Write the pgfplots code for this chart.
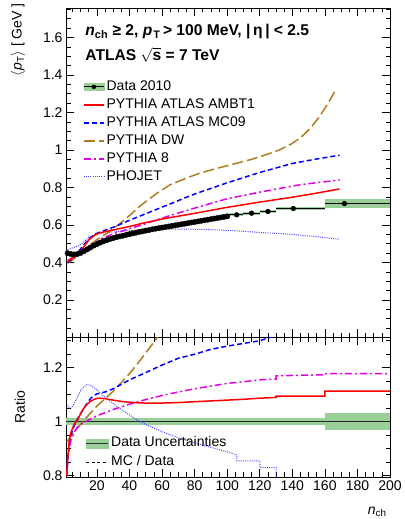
\documentclass[border=0pt]{standalone}
\usepackage{amsmath}
\usepackage{fontspec}
\setmainfont{Liberation Sans}
\usepackage{pgfplots}
\pgfplotsset{compat=1.18}

\definecolor{mcred}{RGB}{255,0,0}
\definecolor{mcblue}{RGB}{0,0,255}
\definecolor{dwbrown}{RGB}{176,125,30}
\definecolor{pymag}{RGB}{225,0,225}
\definecolor{phoblue}{RGB}{70,70,255}
\definecolor{bandgreen}{RGB}{152,208,152}

\newcommand{\fs}{\fontsize{14}{16}\selectfont}

\pgfplotsset{
  atlas/.style={
    scale only axis, width=324pt,
    xmin=1, xmax=200,
    tick align=inside, xtick pos=both, ytick pos=both,
    major tick length=8pt, minor tick length=4.5pt,
    xtick={20,40,...,200},
    minor xtick={5,10,...,200},
    axis line style={line width=0.8pt},
    every tick/.style={black, line width=0.6pt},
    tick label style={font=\fs},
    /pgf/number format/assume math mode=true,
    legend image code/.code={\draw[##1] (0pt,0pt) -- (20pt,0pt);},
    legend cell align=left,
  },
  mcamb/.style={mcred, line width=1.5pt},
  mcmc09/.style={mcblue, line width=1.5pt, dash pattern=on 5pt off 3pt},
  mcdw/.style={dwbrown, line width=1.5pt, dash pattern=on 11pt off 4pt},
  mcp8/.style={pymag, line width=1.5pt, dash pattern=on 7pt off 3pt on 2pt off 3pt},
  mcpho/.style={phoblue, line width=1pt, dash pattern=on 1pt off 1.2pt},
}

\begin{document}
\begin{tikzpicture}
\path[use as bounding box] (0,0) rectangle (404pt,519pt);

% ---------------- upper panel: <pT> vs nch
\begin{axis}[atlas,
  at={(66pt,511pt)}, anchor=north west, height=329.5pt,
  ymin=0, ymax=1.757,
  ytick={0,0.2,0.4,0.6,0.8,1,1.2,1.4,1.6},
  yticklabels={{},0.2,0.4,0.6,0.8,1,1.2,1.4,1.6},
  minor ytick={0.05,0.1,...,1.75},
  xticklabels={},
  ylabel={$\langle$\textit{p}$_{\text{T}}\rangle$ [ GeV ]},
  every axis y label/.style={at={(axis description cs:-0.148,1.025)}, rotate=90, anchor=east, font=\fs},
  legend style={draw=none, fill=none, at={(axis description cs:0.043,0.79)}, anchor=north west,
    font=\fs, row sep=3pt, nodes={inner ysep=1pt, text height=10pt, text depth=3pt}},
]
\addlegendimage{legend image code/.code={\fill[bandgreen] (0pt,-3.5pt) rectangle (20pt,3.5pt);
  \draw[black,line width=0.9pt] (0pt,0pt) -- (20pt,0pt); \fill[black] (10pt,0pt) circle (2pt);}}
\addlegendentry{Data 2010}
\addlegendimage{mcamb}
\addlegendentry{PYTHIA ATLAS AMBT1}
\addlegendimage{mcmc09}
\addlegendentry{PYTHIA ATLAS MC09}
\addlegendimage{mcdw}
\addlegendentry{PYTHIA DW}
\addlegendimage{mcp8}
\addlegendentry{PYTHIA 8}
\addlegendimage{mcpho}
\addlegendentry{PHOJET}

% data uncertainty bands of the wide bins
\addplot[forget plot, fill=bandgreen, draw=none] coordinates {(101,0.646) (110,0.646) (110,0.662) (101,0.662)} -- cycle;
\addplot[forget plot, fill=bandgreen, draw=none] coordinates {(110,0.655) (120,0.655) (120,0.671) (110,0.671)} -- cycle;
\addplot[forget plot, fill=bandgreen, draw=none] coordinates {(120,0.664) (130,0.664) (130,0.680) (120,0.680)} -- cycle;
\addplot[forget plot, fill=bandgreen, draw=none] coordinates {(130,0.678) (160,0.678) (160,0.698) (130,0.698)} -- cycle;
\addplot[forget plot, fill=bandgreen, draw=none] coordinates {(160,0.688) (200,0.688) (200,0.740) (160,0.740)} -- cycle;

% MC predictions
\addplot[forget plot, mcpho] coordinates {(2,0.468) (5,0.478) (9,0.490) (12,0.510) (15,0.535) (19,0.550) (23,0.556) (30,0.563) (40,0.570) (50,0.575) (60,0.578) (75,0.578) (90,0.575) (105,0.569) (120,0.560) (135,0.553) (150,0.542) (169,0.524)};
\addplot[forget plot, mcdw] coordinates {(2,0.396) (6,0.420) (10,0.455) (15,0.490) (20,0.522) (27,0.560) (33,0.600) (40,0.650) (45,0.690) (50,0.725) (57,0.770) (65,0.815) (75,0.850) (83,0.876) (95,0.905) (104,0.925) (115,0.950) (124,0.975) (132,1.000) (139,1.030) (145,1.065) (151,1.115) (156,1.170) (161,1.235) (166,1.310)};
\addplot[forget plot, mcmc09] coordinates {(2,0.400) (5,0.420) (8,0.450) (11,0.484) (15,0.525) (19,0.552) (25,0.572) (31,0.591) (40,0.625) (48,0.653) (60,0.695) (80,0.765) (100,0.825) (120,0.880) (140,0.928) (155,0.952) (169,0.972)};
\addplot[forget plot, mcp8] coordinates {(2,0.410) (6,0.430) (10,0.455) (15,0.480) (20,0.510) (23,0.528) (30,0.553) (40,0.580) (50,0.607) (63,0.645) (80,0.690) (100,0.740) (120,0.775) (145,0.815) (169,0.840)};
\addplot[forget plot, mcamb] coordinates {(2,0.405) (5,0.425) (9,0.449) (12,0.485) (15,0.520) (18,0.542) (21,0.556) (25,0.565) (31,0.575) (40,0.592) (48,0.609) (60,0.632) (80,0.662) (100,0.694) (120,0.722) (140,0.748) (155,0.770) (169,0.792)};

% data: bin widths of the wide bins
\addplot[forget plot, black, line width=0.9pt] coordinates {(101,0.654) (110,0.654)};
\addplot[forget plot, black, line width=0.9pt] coordinates {(110,0.663) (120,0.663)};
\addplot[forget plot, black, line width=0.9pt] coordinates {(120,0.672) (130,0.672)};
\addplot[forget plot, black, line width=0.9pt] coordinates {(130,0.688) (160,0.688)};
\addplot[forget plot, black, line width=0.9pt] coordinates {(160,0.714) (200,0.714)};
% data points
\addplot[forget plot, only marks, mark=*, mark size=2.7pt, black] coordinates {(2,0.449)(4,0.445)(6,0.443)(8,0.445)(10,0.451)(12,0.460)(14,0.470)(16,0.480)(18,0.490)(20,0.498)(22,0.506)(24,0.513)(26,0.519)(28,0.525)(30,0.530)(32,0.535)(34,0.539)(36,0.543)(38,0.547)(40,0.551)(42,0.555)(44,0.559)(46,0.563)(48,0.566)(50,0.570)(52,0.573)(54,0.577)(56,0.580)(58,0.583)(60,0.586)(62,0.589)(64,0.592)(66,0.595)(68,0.598)(70,0.601)(72,0.604)(74,0.607)(76,0.610)(78,0.613)(80,0.616)(82,0.619)(84,0.622)(86,0.625)(88,0.628)(90,0.631)(92,0.634)(94,0.637)(96,0.640)(98,0.643)(100,0.646)};
\addplot[forget plot, only marks, mark=*, mark size=2.4pt, black] coordinates {(105.8,0.654) (115,0.663) (125,0.672) (140.6,0.688) (172,0.714)};

\node[anchor=west, font=\bfseries\fontsize{15.6}{17}\selectfont] at (axis description cs:0.049,0.927)
  {\textit{n}$_{\text{ch}}$ ≥ 2, \textit{p\/}$_{\kern1pt\text{T}}$\,> 100 MeV, |\,η\,| < 2.5};
\node[anchor=west, font=\bfseries\fontsize{15.6}{17}\selectfont] at (axis description cs:0.049,0.857)
  {ATLAS $\sqrt{\text{s}}$ = 7 TeV};
\end{axis}

% ---------------- lower panel: MC / data
\begin{axis}[atlas,
  at={(66pt,181.5pt)}, anchor=north west, height=139.5pt,
  ymin=0.795, ymax=1.312,
  ytick={0.8,1,1.2},
  minor ytick={0.85,0.9,0.95,1.05,1.1,1.15,1.25,1.3},
  ylabel={Ratio},
  every axis y label/.style={at={(axis description cs:-0.142,0.5)}, rotate=90, anchor=center, font=\fs},
  xlabel={\textit{n}$_{\text{ch}}$},
  every axis x label/.style={at={(axis description cs:1,-0.249)}, anchor=east, font=\fs},
  legend style={draw=none, fill=none, at={(axis description cs:0.05,0.31)}, anchor=north west,
    font=\fs, row sep=4pt, nodes={inner ysep=1pt, text height=10pt, text depth=3pt}},
]
\addlegendimage{legend image code/.code={\fill[bandgreen] (0pt,-4.5pt) rectangle (22pt,4.5pt);
  \draw[black!80,line width=0.7pt] (0pt,0pt) -- (22pt,0pt);}}
\addlegendentry{Data Uncertainties}
\addlegendimage{legend image code/.code={\draw[black, line width=1.8pt, dash pattern=on 3pt off 2.5pt] (0pt,0pt) -- (22pt,0pt);}}
\addlegendentry{MC / Data}

\addplot[forget plot, fill=bandgreen, draw=none] coordinates {(1,0.986) (130,0.986) (130,1.014) (1,1.014)} -- cycle;
\addplot[forget plot, fill=bandgreen, draw=none] coordinates {(130,0.987) (160,0.987) (160,1.013) (130,1.013)} -- cycle;
\addplot[forget plot, fill=bandgreen, draw=none] coordinates {(160,0.968) (200,0.968) (200,1.033) (160,1.033)} -- cycle;
\addplot[forget plot, black!85, line width=0.7pt] coordinates {(1,1) (200,1)};

\addplot[forget plot, mcpho] coordinates {(2,1.060) (3,1.050) (4,1.050) (6,1.065) (8,1.090) (10,1.115) (12,1.130) (14,1.137) (16,1.135) (18,1.127) (20,1.118) (25,1.090) (30,1.067) (35,1.045) (40,1.025) (45,1.005) (50,0.990) (60,0.963) (70,0.940) (80,0.922) (90,0.905) (100,0.888) (106,0.877) (106,0.855) (120,0.855) (120,0.830) (130,0.830) (130,0.790)};
\addplot[forget plot, mcdw] coordinates {(1.5,0.925) (5,0.955) (10,0.990) (15,1.025) (20,1.058) (25,1.085) (30,1.113) (35,1.145) (40,1.178) (45,1.215) (50,1.255) (55,1.295) (60,1.335) (70,1.420)};
\addplot[forget plot, mcmc09] coordinates {(1.5,0.80) (2,0.85) (3,0.92) (4,0.95) (6,0.985) (8,1.010) (10,1.030) (12,1.050) (14,1.068) (16,1.085) (18,1.097) (20,1.103) (25,1.110) (30,1.122) (40,1.155) (50,1.182) (60,1.210) (70,1.235) (80,1.250) (90,1.268) (100,1.280) (110,1.290) (120,1.300) (130,1.320)};
\addplot[forget plot, mcp8] coordinates {(1.5,0.80) (2,0.87) (4,0.93) (6,0.96) (8,0.98) (10,0.99) (14,1.003) (20,1.022) (30,1.045) (40,1.065) (50,1.082) (60,1.097) (70,1.110) (80,1.122) (90,1.132) (100,1.142) (110,1.148) (120,1.155) (130,1.158) (130,1.170) (160,1.174) (160,1.178) (200,1.178)};
\addplot[forget plot, mcamb] coordinates {(1.5,0.80) (2,0.86) (3,0.93) (4,0.96) (6,0.99) (8,1.005) (10,1.030) (12,1.050) (14,1.065) (16,1.075) (18,1.082) (20,1.086) (22,1.087) (25,1.085) (30,1.080) (35,1.075) (40,1.072) (45,1.070) (50,1.069) (60,1.069) (70,1.071) (80,1.074) (90,1.077) (100,1.080) (110,1.083) (120,1.087) (130,1.090) (130,1.095) (160,1.095) (160,1.113) (200,1.113)};
\end{axis}
\end{tikzpicture}
\end{document}
